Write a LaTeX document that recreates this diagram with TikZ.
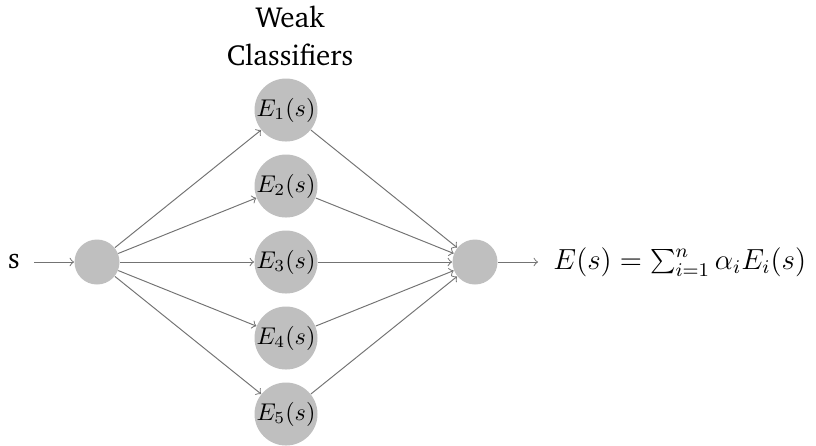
\documentclass[tikz,border=0pt]{standalone}
\usepackage[T1]{fontenc}
\newcommand\chfont{\fontfamily{bch}\selectfont}
\begin{document}
\begin{tikzpicture}[x=0.413pt,y=-0.413pt,
  big/.style={circle,fill=black!25,minimum size=63*0.413pt,inner sep=0pt},
  small/.style={circle,fill=black!25,minimum size=45*0.413pt,inner sep=0pt},
  conn/.style={->,>=to,draw=black!55,line width=0.4pt}]
\useasboundingbox (0,0) rectangle (816,445);
\node[small] (in) at (97,262) {};
\node[small] (out) at (475,262) {};
\foreach \i/\y in {1/110,2/186,3/262,4/338,5/414}{
  \node[big] (e\i) at (286,\y) {\makebox[0pt]{$E_{\i}(s)$}};
  \draw[conn] (in) -- (e\i);
  \draw[conn] (e\i) -- (out);
}
\node[inner xsep=14*0.413pt,font=\chfont\large] (s) at (14,262) {s};
\draw[conn] (s) -- (in);
\node[anchor=west,inner xsep=15*0.413pt,inner ysep=0pt,font=\large] (f) at (538,262) {$E(s)=\sum_{i=1}^{n}\alpha_i E_i(s)$};
\draw[conn] (out) -- (f);
\node[align=center,font=\chfont\fontsize{12}{15.5}\selectfont] (t) at (290,36) {Weak\\Classifiers};
\end{tikzpicture}
\end{document}
